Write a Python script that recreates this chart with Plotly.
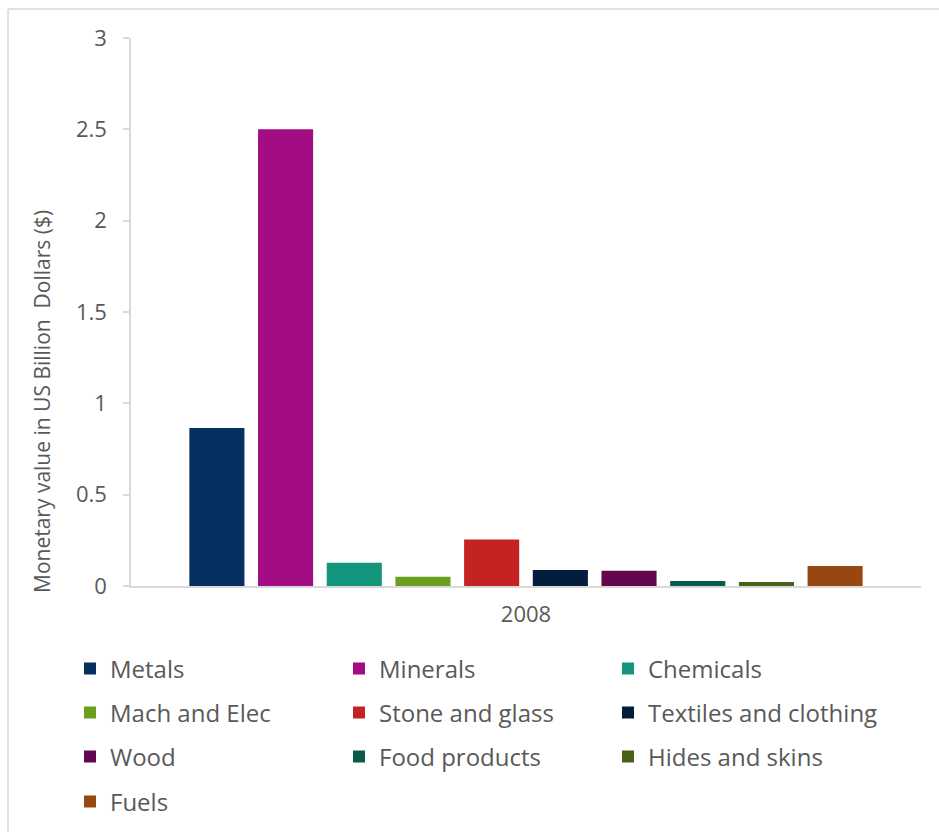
import plotly.graph_objects as go

categories = ["2008"]
series_names = ["Metals", "Minerals", "Chemicals", "Mach and Elec", "Stone and glass",
                "Textiles and clothing", "Wood", "Food products", "Hides and skins", "Fuels"]
series_values = [0.865, 2.50, 0.127, 0.050, 0.254, 0.088, 0.083, 0.028, 0.022, 0.110]
series_colors = ["#05305F", "#A20D83", "#14967C", "#6B9F1F", "#C42323",
                 "#031D3D", "#63074E", "#0B5B4B", "#49621A", "#994712"]
y_ticks = [0, 0.5, 1, 1.5, 2, 2.5, 3]
y_ticklabels = ["0", "0.5", "1", "1.5", "2", "2.5", "3"]

W, H = 939, 832
L, R, T, B = 131, 18, 38, 246
pw, ph = W - L - R, H - T - B

def px_x(x):
    return (x - L) / pw

def px_y(y):
    return (H - B - y) / ph

FONT = "Open Sans"
GREY = "#595959"

fig = go.Figure()
legend_ids = ["legend", "legend2", "legend3", "legend4"]
for i, (name, val, col) in enumerate(zip(series_names, series_values, series_colors)):
    fig.add_trace(go.Bar(
        x=categories, y=[val], name=name, marker=dict(color=col, line=dict(width=0)),
        legend=legend_ids[i // 3], hoverinfo="name+y",
    ))

row_y = [669, 713, 757, 802]
leg_common = dict(orientation="h", entrywidth=224, entrywidthmode="pixels",
                  font=dict(family=FONT, size=24, color=GREY),
                  xanchor="left", yanchor="middle", bgcolor="rgba(0,0,0,0)",
                  x=px_x(70), itemclick=False, itemdoubleclick=False)
layout_legends = {}
for k, lid in enumerate(legend_ids):
    layout_legends[lid] = dict(leg_common, y=px_y(row_y[k]))

fig.update_layout(
    width=W, height=H,
    margin=dict(l=L, r=R, t=T, b=B, pad=0, autoexpand=False),
    paper_bgcolor="white", plot_bgcolor="white",
    barmode="group", bargap=0.1305, bargroupgap=0.198,
    showlegend=True,
    font=dict(family=FONT, color=GREY),
    xaxis=dict(showline=True, linecolor="#d9d9d9", linewidth=2, showgrid=False,
               ticks="", tickfont=dict(family=FONT, size=22, color=GREY),
               ticklabelstandoff=8, zeroline=False, fixedrange=True),
    yaxis=dict(range=[0, 3], tickvals=y_ticks, ticktext=y_ticklabels,
               showline=True, linecolor="#d9d9d9", linewidth=1.5, showgrid=False,
               ticks="outside", ticklen=6, tickcolor="#d9d9d9", tickwidth=1.5,
               tickfont=dict(family=FONT, size=22, color=GREY),
               ticklabelstandoff=12, zeroline=False, fixedrange=True),
    annotations=[dict(
        text="Monetary value in US Billion\u00a0 Dollars ($)",
        xref="paper", yref="paper", x=px_x(42), y=px_y(402),
        xanchor="center", yanchor="middle", textangle=-90, showarrow=False,
        font=dict(family=FONT, size=21, color=GREY),
    )],
    shapes=[
        dict(type="line", xref="paper", yref="paper", x0=px_x(8), x1=px_x(939),
             y0=px_y(9), y1=px_y(9), line=dict(color="#d9d9d9", width=1.5)),
        dict(type="line", xref="paper", yref="paper", x0=px_x(8), x1=px_x(8),
             y0=px_y(9), y1=px_y(832), line=dict(color="#d9d9d9", width=1.5)),
    ],
    **layout_legends,
)

fig.write_html("out.html", config={"displayModeBar": False})
